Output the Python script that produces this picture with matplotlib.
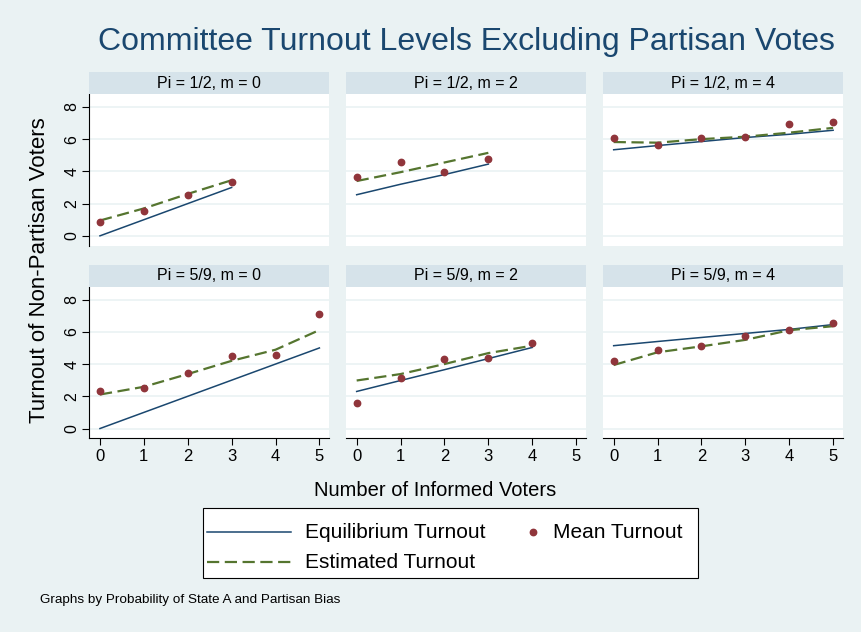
import numpy as np
import matplotlib
matplotlib.use("Agg")
import matplotlib.pyplot as plt
from matplotlib.patches import Rectangle
from matplotlib.lines import Line2D

plt.rcParams['font.family'] = ['Liberation Sans', 'DejaVu Sans']

# panel titles, row by row
panel_titles = ["Pi = 1/2, m = 0", "Pi = 1/2, m = 2", "Pi = 1/2, m = 4",
                "Pi = 5/9, m = 0", "Pi = 5/9, m = 2", "Pi = 5/9, m = 4"]

# number of informed voters per panel
x_vals = [[0, 1, 2, 3],
          [0, 1, 2, 3],
          [0, 1, 2, 3, 4, 5],
          [0, 1, 2, 3, 4, 5],
          [0, 1, 2, 3, 4],
          [0, 1, 2, 3, 4, 5]]

equilibrium = [[0, 1, 2, 3],
               [2.55, 3.2, 3.8, 4.45],
               [5.34, 5.6, 5.85, 6.1, 6.3, 6.55],
               [0, 1, 2, 3, 4, 5],
               [2.3, 2.98, 3.65, 4.34, 5.03],
               [5.14, 5.4, 5.65, 5.9, 6.15, 6.45]]

mean_turnout = [[0.87, 1.55, 2.55, 3.35],
                [3.66, 4.56, 3.94, 4.78],
                [6.09, 5.61, 6.09, 6.15, 6.95, 7.05],
                [2.32, 2.51, 3.42, 4.5, 4.58, 7.1],
                [1.58, 3.13, 4.33, 4.39, 5.3],
                [4.2, 4.87, 5.12, 5.74, 6.1, 6.55]]

estimated = [[0.95, 1.7, 2.6, 3.45],
             [3.4, 3.95, 4.55, 5.15],
             [5.82, 5.78, 6.0, 6.15, 6.4, 6.7],
             [2.11, 2.59, 3.38, 4.2, 4.89, 6.11],
             [2.98, 3.38, 4.0, 4.68, 5.14],
             [3.94, 4.73, 5.1, 5.5, 6.1, 6.35]]

x_ticks = [0, 1, 2, 3, 4, 5]
y_ticks = [0, 2, 4, 6, 8]

navy = "#1A476F"
maroon = "#90353B"
green = "#55752F"
bg = "#EAF2F3"
strip = "#D6E3EA"

W, H = 862, 632
fig = plt.figure(figsize=(W / 100, H / 100), dpi=100, facecolor=bg)

col_left = [89, 345.7, 602.7]
col_w = 240.5
row_top = [94, 286.7]
row_h = 151.5
strip_h = 22

def fx(px):
    return px / W

def fy(py):
    return 1 - py / H

eq_style = dict(color=navy, lw=1.1)
est_style = dict(color=green, lw=1.6, dashes=(5.5, 2.5))
mean_style = dict(ls='none', marker='o', color=maroon, ms=4.6)

for i in range(6):
    r, c = divmod(i, 3)
    ax = fig.add_axes([fx(col_left[c]), fy(row_top[r] + row_h), fx(col_w), row_h / H])
    ax.set_facecolor("white")
    ax.plot(x_vals[i], equilibrium[i], zorder=3, **eq_style)
    ax.plot(x_vals[i], estimated[i], zorder=4, **est_style)
    ax.plot(x_vals[i], mean_turnout[i], zorder=5, **mean_style)
    ax.set_xlim(-0.25, 5.23)
    ax.set_ylim(-0.6, 8.8)
    ax.set_xticks(x_ticks)
    ax.set_yticks(y_ticks)
    ax.grid(axis='y', color=bg, lw=1.2)
    ax.set_axisbelow(True)
    for s in ['top', 'right']:
        ax.spines[s].set_visible(False)
    ax.spines['left'].set_visible(c == 0)
    ax.spines['bottom'].set_visible(r == 1)
    ax.tick_params(axis='y', left=(c == 0), labelleft=(c == 0), length=5, width=0.8,
                   labelsize=11.5, pad=2)
    ax.tick_params(axis='x', bottom=(r == 1), labelbottom=(r == 1), length=5, width=0.8,
                   labelsize=12, pad=3)
    for lab in ax.get_yticklabels():
        lab.set_rotation(90)
        lab.set_va('center')
    # header strip
    fig.patches.append(Rectangle((fx(col_left[c]), fy(row_top[r])), fx(col_w), strip_h / H,
                                 transform=fig.transFigure, facecolor=strip,
                                 edgecolor='none', zorder=0))
    fig.text(fx(col_left[c] + col_w / 2), fy(row_top[r] - strip_h / 2), panel_titles[i],
             ha='center', va='center', fontsize=11.5)

fig.text(fx(466), fy(42), "Committee Turnout Levels Excluding Partisan Votes",
         ha='center', va='center', fontsize=23, color=navy)
fig.text(fx(40), fy(270), "Turnout of Non-Partisan Voters", rotation=90,
         ha='center', va='center', fontsize=16)
fig.text(fx(435), fy(490), "Number of Informed Voters", ha='center', va='center',
         fontsize=14.5)
fig.text(fx(40), fy(600), "Graphs by Probability of State A and Partisan Bias",
         ha='left', va='center', fontsize=9.7)

# legend box, drawn by hand to get Stata's spacing
fig.patches.append(Rectangle((fx(203), fy(578)), fx(495), 70 / H, transform=fig.transFigure,
                             facecolor='white', edgecolor='black', lw=0.8, zorder=1))
fig.add_artist(Line2D([fx(207), fx(291)], [fy(532), fy(532)], transform=fig.transFigure, **eq_style))
fig.add_artist(Line2D([fx(207), fx(291)], [fy(562), fy(562)], transform=fig.transFigure, **est_style))
fig.add_artist(Line2D([fx(533)], [fy(532)], transform=fig.transFigure, **mean_style))
fig.text(fx(305), fy(532), "Equilibrium Turnout", ha='left', va='center', fontsize=15)
fig.text(fx(305), fy(562), "Estimated Turnout", ha='left', va='center', fontsize=15)
fig.text(fx(553), fy(532), "Mean Turnout", ha='left', va='center', fontsize=15)

fig.savefig("out.png", dpi=100, facecolor=bg)
